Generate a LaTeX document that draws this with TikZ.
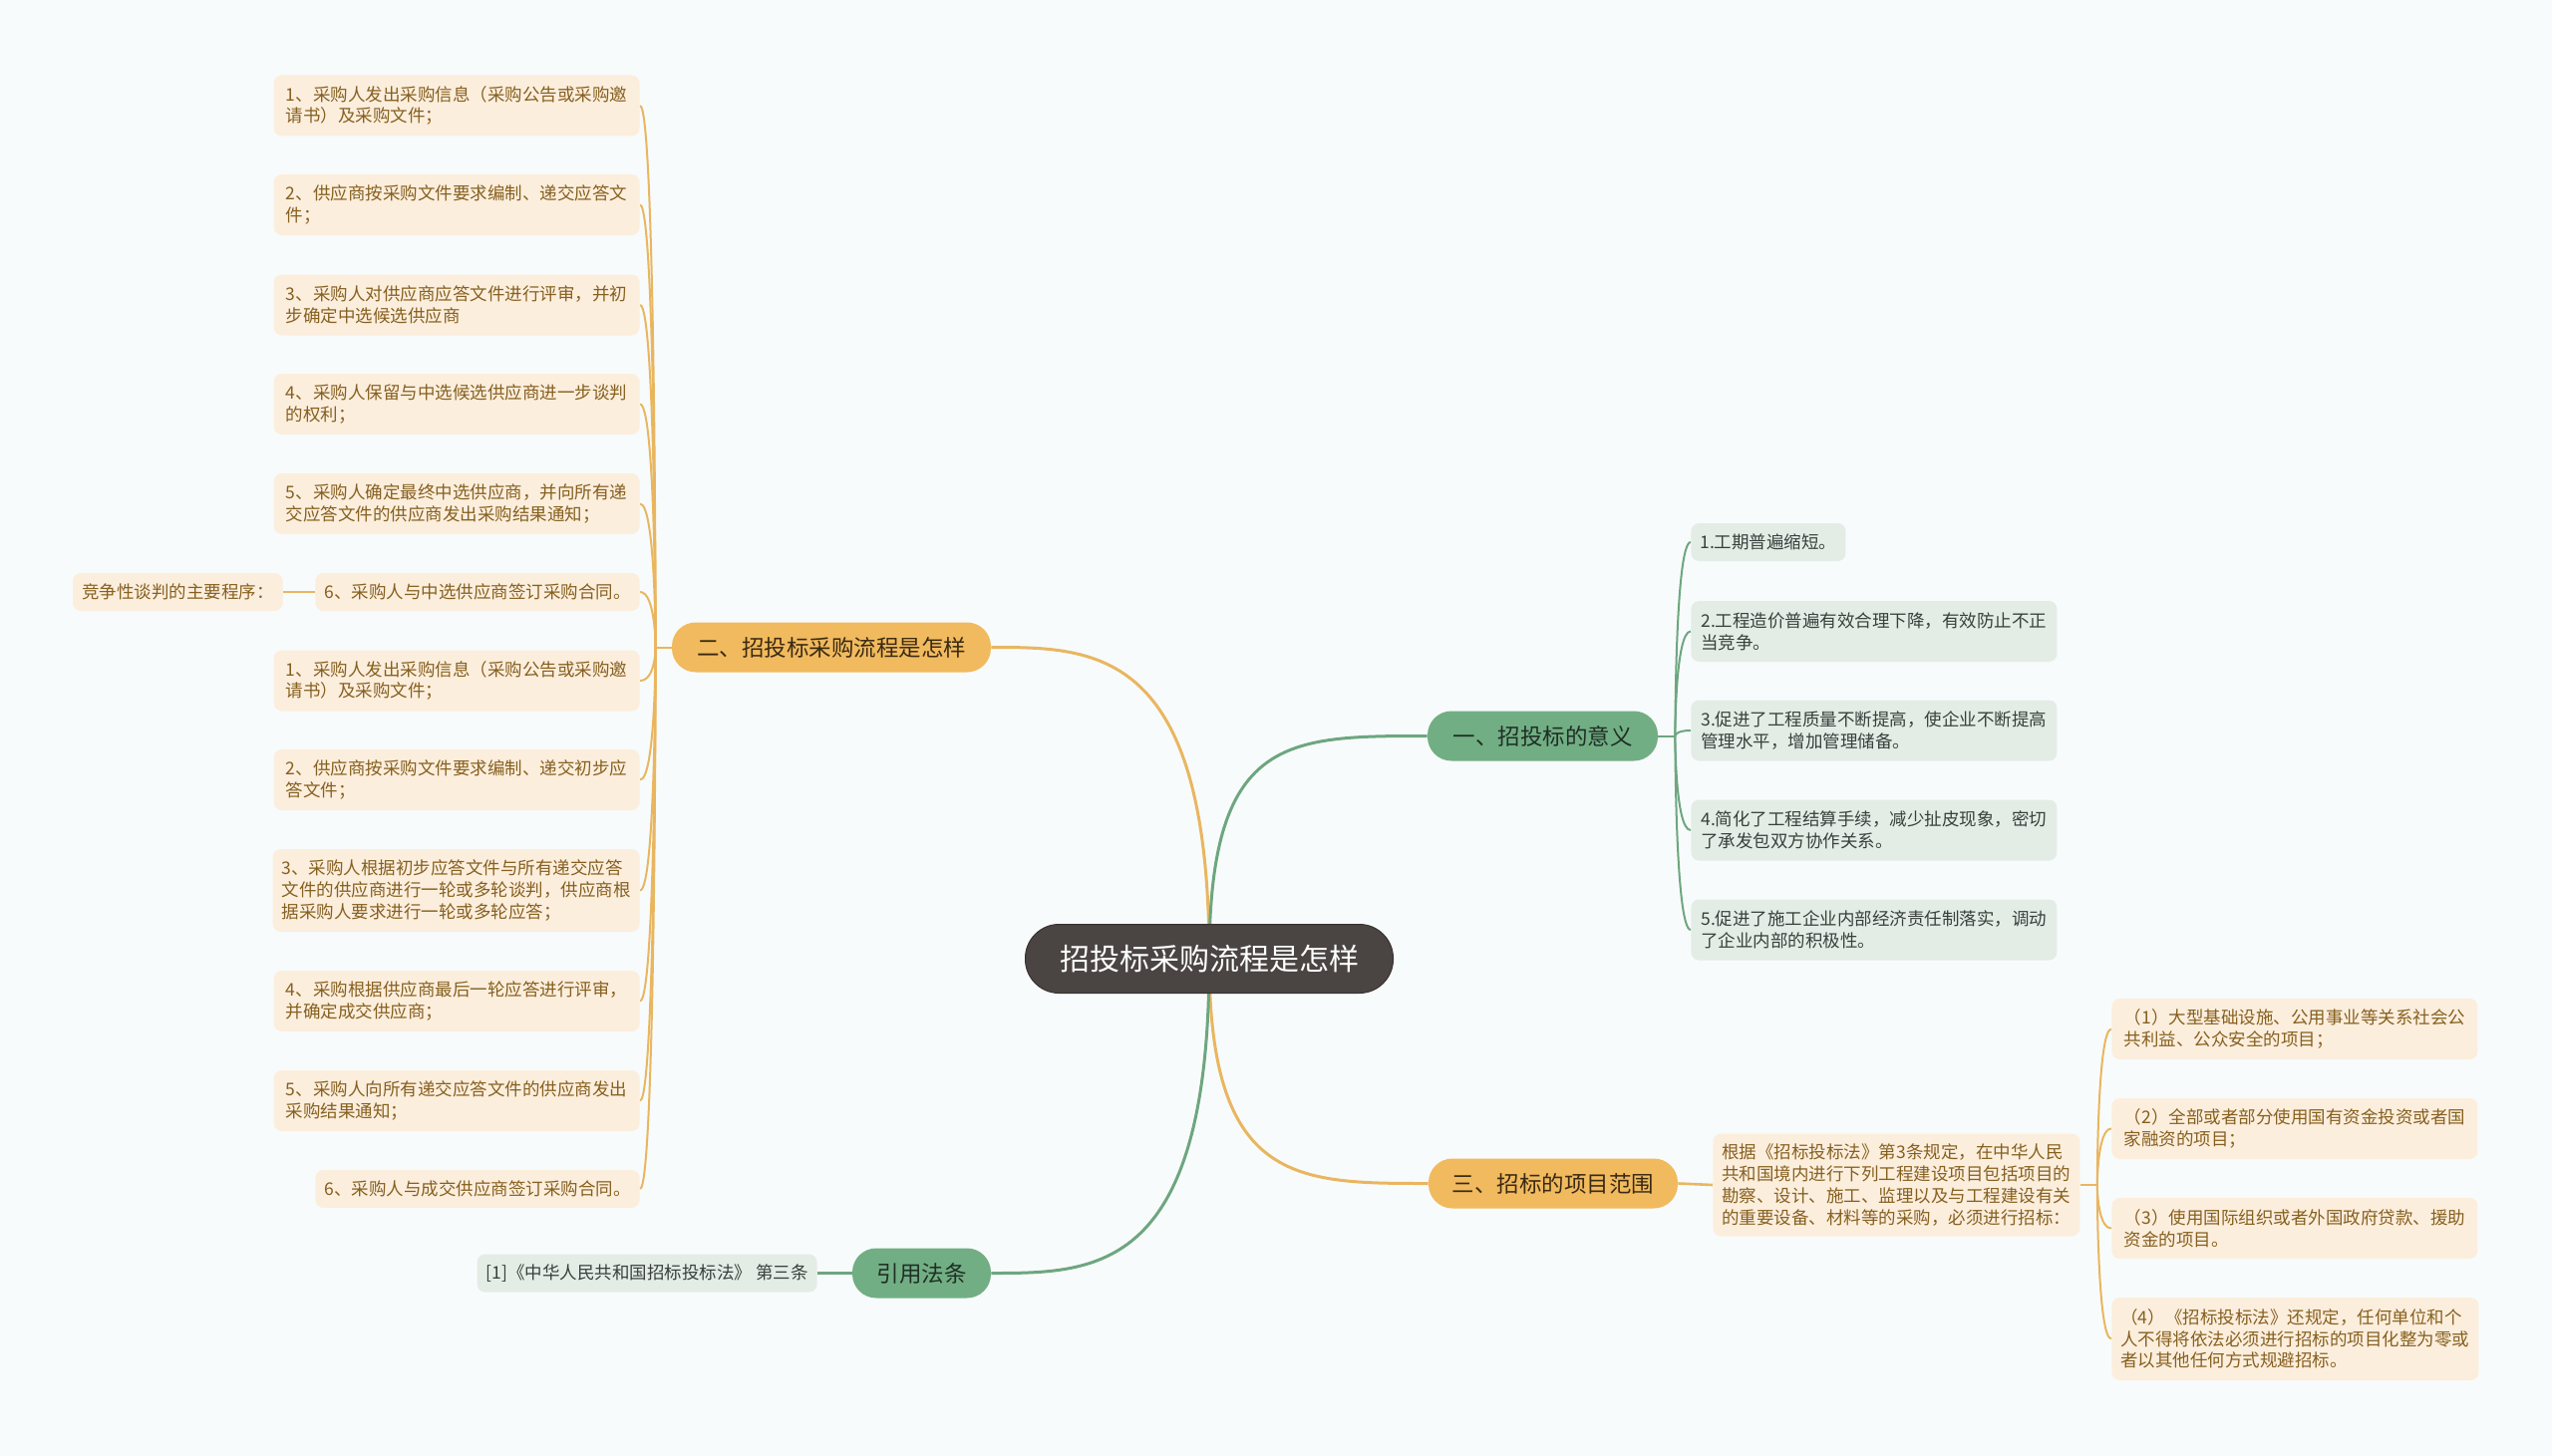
\documentclass[tikz,border=0pt]{standalone}
\usepackage{fontspec}
\setmainfont{Noto Sans CJK SC}
\definecolor{bgc}{HTML}{F8FBFB}
\definecolor{orl}{HTML}{E9B660}
\definecolor{grl}{HTML}{6DA680}
\definecolor{orf}{HTML}{F1BA5E}
\definecolor{grf}{HTML}{72AE84}
\definecolor{orleaf}{HTML}{FCEEDD}
\definecolor{grleaf}{HTML}{E3EDE6}
\definecolor{ortext}{HTML}{86601F}
\definecolor{grtext}{HTML}{3A3F3C}
\definecolor{obtext}{HTML}{3A2A12}
\definecolor{gbtext}{HTML}{1F2F25}
\definecolor{centerf}{HTML}{4A4543}
\definecolor{centerd}{HTML}{37322F}
\pgfdeclarelayer{bg}
\pgfdeclarelayer{edges}
\pgfsetlayers{bg,edges,main}
\tikzset{
 leafbase/.style={rounded corners=4pt, inner xsep=4.5pt, inner ysep=2pt, align=left, font=\fontsize{8.75pt}{10.85pt}\selectfont},
 oleaf/.style={leafbase, fill=orleaf, text=ortext},
 gleaf/.style={leafbase, fill=grleaf, text=grtext},
 lone/.style={minimum height=19pt},
 ltwo/.style={minimum height=30.5pt, minimum width=183.5pt},
 lthree/.style={minimum height=41.5pt, minimum width=183.5pt},
 lfour/.style={minimum height=51.5pt, minimum width=183.5pt},
 branch/.style={rounded corners=12pt, inner sep=0pt, font=\fontsize{11.25pt}{13pt}\selectfont, minimum height=25pt},
 obranch/.style={branch, fill=orf, text=obtext},
 gbranch/.style={branch, fill=grf, text=gbtext},
 oline/.style={draw=orl, line width=1pt},
 gline/.style={draw=grl, line width=1pt},
 mainline/.style={line width=1.5pt},
}
\begin{document}
\begin{tikzpicture}[x=0.5pt, y=-0.5pt]
\begin{pgfonlayer}{bg}
\fill[bgc] (0,0) rectangle (2560,1461);
\end{pgfonlayer}
\useasboundingbox (0,0) rectangle (2560,1461);

% center
\node[rounded corners=17pt, fill=centerf, draw=centerd, line width=0.5pt, text=white, minimum width=184.5pt, minimum height=34.5pt, inner sep=0pt, font=\fontsize{15pt}{18pt}\selectfont] (c) at (1213,962) {招投标采购流程是怎样};

% branches
\node[gbranch, minimum width=115.5pt] (b1) at (1547.5,738.5) {一、招投标的意义};
\node[obranch, minimum width=160pt] (b2) at (834,649.5) {二、招投标采购流程是怎样};
\node[obranch, minimum width=125pt] (b3) at (1558,1187.5) {三、招标的项目范围};
\node[gbranch, minimum width=69.5pt] (b4) at (924.5,1277.5) {引用法条};

% left leaves (branch 2)
\node[oleaf, ltwo, anchor=east] (L1) at (642,106) {1、采购人发出采购信息（采购公告或采购邀\\请书）及采购文件；};
\node[oleaf, ltwo, anchor=east] (L2) at (642,205.5) {2、供应商按采购文件要求编制、递交应答文\\件；};
\node[oleaf, ltwo, anchor=east] (L3) at (642,306) {3、采购人对供应商应答文件进行评审，并初\\步确定中选候选供应商};
\node[oleaf, ltwo, anchor=east] (L4) at (642,405.5) {4、采购人保留与中选候选供应商进一步谈判\\的权利；};
\node[oleaf, ltwo, anchor=east] (L5) at (642,505.5) {5、采购人确定最终中选供应商，并向所有递\\交应答文件的供应商发出采购结果通知；};
\node[oleaf, lone, anchor=east] (L6) at (642,594) {6、采购人与中选供应商签订采购合同。};
\node[oleaf, ltwo, anchor=east] (L7) at (642,683) {1、采购人发出采购信息（采购公告或采购邀\\请书）及采购文件；};
\node[oleaf, ltwo, anchor=east] (L8) at (642,782.5) {2、供应商按采购文件要求编制、递交初步应\\答文件；};
\node[oleaf, lthree, anchor=east] (L9) at (642,893.5) {3、采购人根据初步应答文件与所有递交应答\\文件的供应商进行一轮或多轮谈判，供应商根\\据采购人要求进行一轮或多轮应答；};
\node[oleaf, ltwo, anchor=east] (L10) at (642,1004.5) {4、采购根据供应商最后一轮应答进行评审，\\并确定成交供应商；};
\node[oleaf, ltwo, anchor=east] (L11) at (642,1104.5) {5、采购人向所有递交应答文件的供应商发出\\采购结果通知；};
\node[oleaf, lone, anchor=east] (L12) at (642,1193) {6、采购人与成交供应商签订采购合同。};
\node[oleaf, lone, anchor=east] (Lz) at (284,594) {竞争性谈判的主要程序：};

% right leaves (branch 1)
\node[gleaf, lone, anchor=west] (R1) at (1696,544) {1.工期普遍缩短。};
\node[gleaf, ltwo, anchor=west] (R2) at (1696,633.5) {2.工程造价普遍有效合理下降，有效防止不正\\当竞争。};
\node[gleaf, ltwo, anchor=west] (R3) at (1696,733) {3.促进了工程质量不断提高，使企业不断提高\\管理水平，增加管理储备。};
\node[gleaf, ltwo, anchor=west] (R4) at (1696,833) {4.简化了工程结算手续，减少扯皮现象，密切\\了承发包双方协作关系。};
\node[gleaf, ltwo, anchor=west] (R5) at (1696,933) {5.促进了施工企业内部经济责任制落实，调动\\了企业内部的积极性。};

% branch 3
\node[oleaf, lfour, anchor=west] (P) at (1718,1189) {根据《招标投标法》第3条规定，在中华人民\\共和国境内进行下列工程建设项目包括项目的\\勘察、设计、施工、监理以及与工程建设有关\\的重要设备、材料等的采购，必须进行招标：};
\node[oleaf, ltwo, anchor=west] (Q1) at (2118,1032.5) {（1）大型基础设施、公用事业等关系社会公\\共利益、公众安全的项目；};
\node[oleaf, ltwo, anchor=west] (Q2) at (2118,1132.5) {（2）全部或者部分使用国有资金投资或者国\\家融资的项目；};
\node[oleaf, ltwo, anchor=west] (Q3) at (2118,1232.5) {（3）使用国际组织或者外国政府贷款、援助\\资金的项目。};
\node[oleaf, lthree, anchor=west] (Q4) at (2118,1343.5) {（4）《招标投标法》还规定，任何单位和个\\人不得将依法必须进行招标的项目化整为零或\\者以其他任何方式规避招标。};

% branch 4
\node[gleaf, lone, anchor=east] (F1) at (820,1277.5) {[1]《中华人民共和国招标投标法》 第三条};

% junctions
\coordinate (j1) at ([xshift=8.5pt]b1.east);
\coordinate (j2) at ([xshift=-8pt]b2.west);
\coordinate (jp) at ([xshift=8.5pt]P.east);

\begin{pgfonlayer}{edges}
% main connectors
\draw[oline, mainline] (c.center) .. controls (1213,650) and (1100,649.5) .. (b2.east);
\draw[gline, mainline] (c.center) .. controls (1213,738.5) and (1290,738.5) .. (b1.west);
\draw[oline, mainline] (c.center) .. controls (1213,1187.5) and (1300,1187.5) .. (b3.west);
\draw[gline, mainline] (c.center) .. controls (1213,1277.5) and (1100,1277.5) .. (b4.east);
% branch 2 to leaves
\draw[oline] (b2.west) -- (j2);
\foreach \n in {L1,L2,L3,L4,L5,L6,L7,L8,L9,L10,L11,L12}
  \draw[oline] (j2) .. controls (j2) and (j2 |- \n.east) .. (\n.east);
\draw[oline, line width=1.3pt] (L6.west) -- (Lz.east);
% branch 1 to leaves
\draw[gline] (b1.east) -- (j1);
\foreach \n in {R1,R2,R3,R4,R5}
  \draw[gline] (j1) .. controls (j1) and (j1 |- \n.west) .. (\n.west);
% branch 3
\draw[oline, line width=1.3pt] (b3.east) -- (P.west);
\draw[oline] (P.east) -- (jp);
\foreach \n in {Q1,Q2,Q3,Q4}
  \draw[oline] (jp) .. controls (jp) and (jp |- \n.west) .. (\n.west);
% branch 4
\draw[gline, line width=1.3pt] (b4.west) -- (F1.east);
\end{pgfonlayer}
\end{tikzpicture}
\end{document}
